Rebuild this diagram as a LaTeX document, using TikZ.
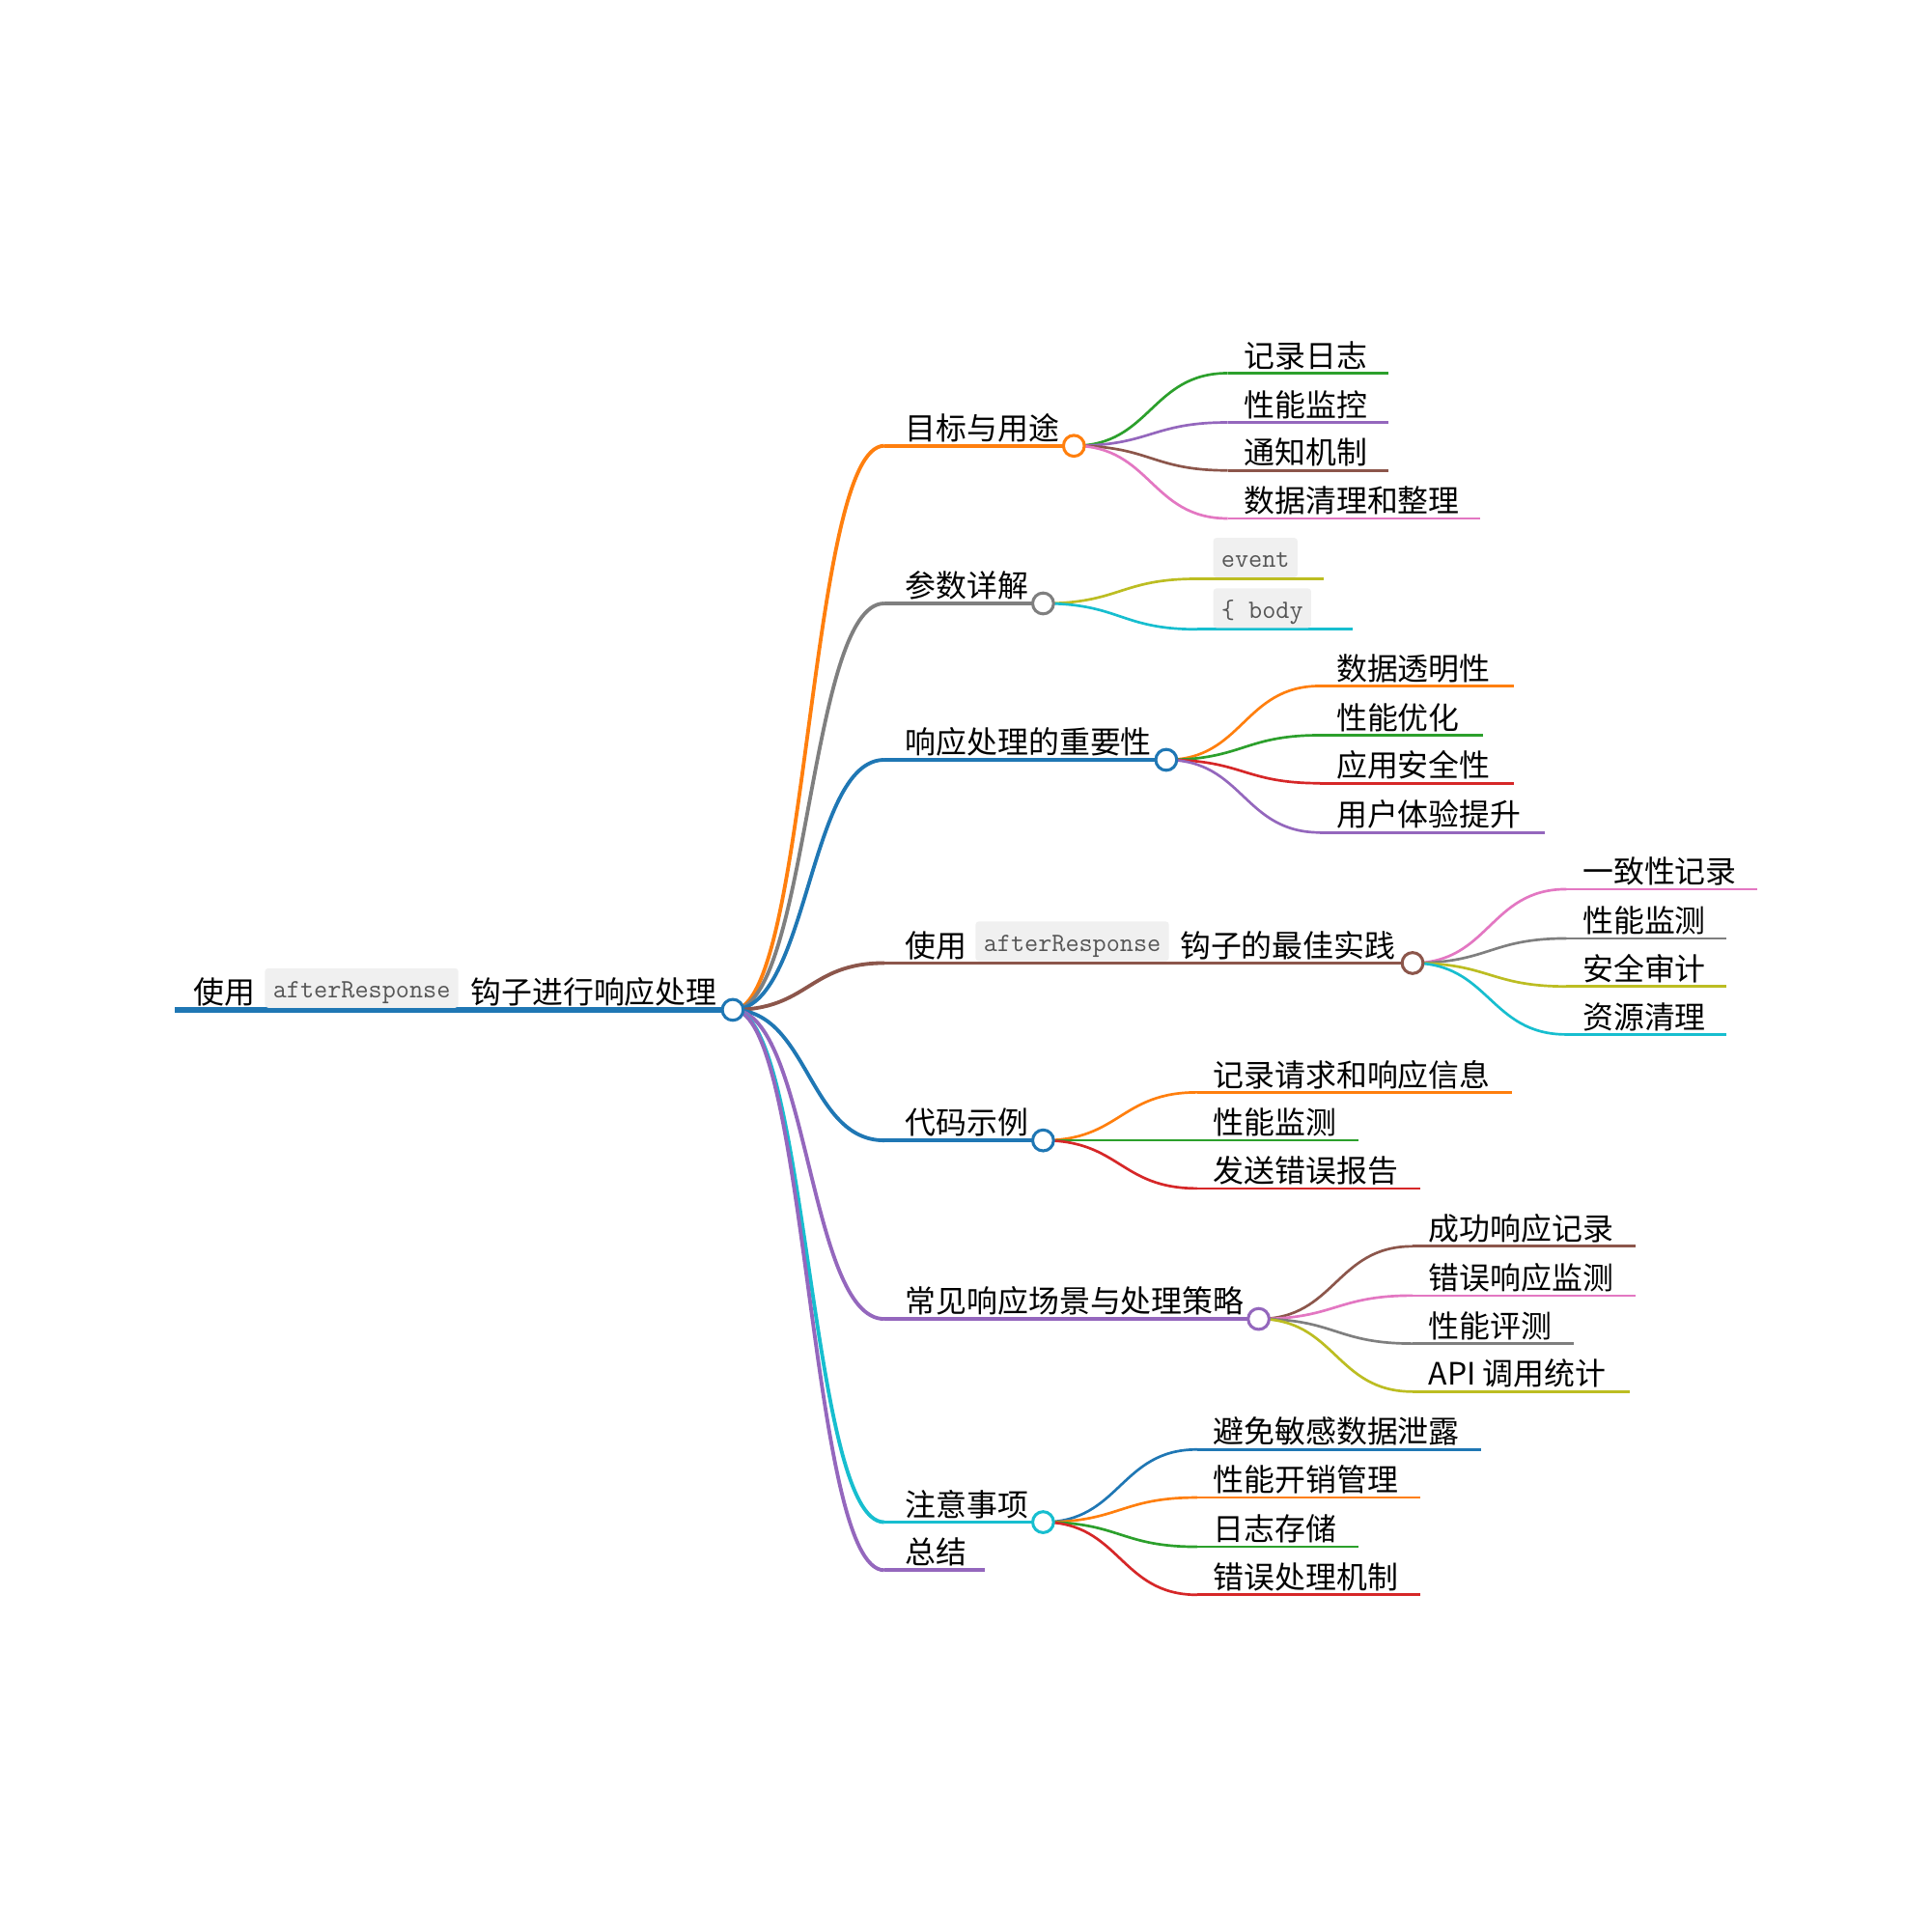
\documentclass[tikz,border=0pt]{standalone}
\usepackage{fontspec}
\newfontfamily\cjk{Noto Sans CJK SC}
\usetikzlibrary{calc}
\definecolor{cBlue}{HTML}{1F77B4}
\definecolor{cOrange}{HTML}{FF7F0E}
\definecolor{cGreen}{HTML}{2CA02C}
\definecolor{cRed}{HTML}{D62728}
\definecolor{cPurple}{HTML}{9467BD}
\definecolor{cBrown}{HTML}{8C564B}
\definecolor{cPink}{HTML}{E377C2}
\definecolor{cGray}{HTML}{7F7F7F}
\definecolor{cOlive}{HTML}{BCBD22}
\definecolor{cCyan}{HTML}{17BECF}
\definecolor{codebg}{HTML}{F0F0F0}
\definecolor{codetext}{HTML}{555555}
\tikzset{
  lbl/.style={anchor=base west, inner sep=0pt, text=black, font=\cjk\fontsize{25}{30}\selectfont},
  codebox/.style={anchor=south west, inner xsep=6.5pt, inner ysep=0pt, minimum height=32pt,
    text height=20pt, text depth=4pt,
    fill=codebg, rounded corners=2.5pt, text=codetext, font=\ttfamily\fontsize{21.5}{24}\selectfont},
  knob/.style={circle, draw, fill=white, line width=2.4pt, minimum size=17pt, inner sep=0pt},
}
\newcommand\mmlink[4]{\draw[#1,line width=#2] let \p1=(#3), \p2=(#4) in
  (\p1) .. controls ({(\x1+\x2)/2},\y1) and ({(\x1+\x2)/2},\y2) .. (\p2);}
% level-1 node: name, color, y, circle x, text
\newcommand\mmmid[5]{%
  \coordinate (#1s) at (718,#3);
  \coordinate (#1p) at (#4,#3);
  \mmlink{#2}{3pt}{rp}{#1s}
  \draw[#2,line width=3pt] (#1s) -- (#1p);
  \node[lbl] (#1t) at (735,#3-5) {#5};
}
% leaf: name, parent coord, color, y, start x, end x, text
\newcommand\mmleaf[7]{%
  \coordinate (#1s) at (#5,#4);
  \coordinate (#1e) at (#6,#4);
  \mmlink{#3}{2.1pt}{#2}{#1s}
  \draw[#3,line width=2.1pt] (#1s) -- (#1e);
  \node[lbl] (#1t) at (#5+13,#4-5) {#7};
}
\begin{document}
\begin{tikzpicture}[x=1pt,y=-1pt]
\fill[white] (0,0) rectangle (1568,1568);
\useasboundingbox (0,0) rectangle (1568,1568);

% root
\coordinate (rs) at (142,820);
\coordinate (rp) at (595,820);

% level 1
\mmmid{a}{cOrange}{362}{872}{目标与用途}
\mmmid{b}{cGray}{490}{847}{参数详解}
\mmmid{c}{cBlue}{617}{947}{响应处理的重要性}
% d : best practice (with code)
\coordinate (ds) at (718,782);
\coordinate (dp) at (1147,782);
\mmlink{cBrown}{3pt}{rp}{ds}
\draw[cBrown,line width=3pt] (ds) -- (dp);
\node[lbl] (dt1) at (735,777) {使用};
\node[codebox] (dt2) at (792,780.5) {afterResponse};
\node[lbl] (dt3) at (958,777) {钩子的最佳实践};
\mmmid{e}{cBlue}{926}{847}{代码示例}
\mmmid{f}{cPurple}{1071}{1022}{常见响应场景与处理策略}
\mmmid{g}{cCyan}{1236}{847}{注意事项}
% h : summary (no children)
\coordinate (hs) at (718,1275);
\coordinate (he) at (800,1275);
\mmlink{cPurple}{3pt}{rp}{hs}
\draw[cPurple,line width=3pt] (hs) -- (he);
\node[lbl] (ht) at (735,1270) {总结};

% root line and text
\draw[cBlue,line width=5pt] (rs) -- (rp);
\node[lbl] (rt1) at (157,815) {使用};
\node[codebox] (rt2) at (215,818.5) {afterResponse};
\node[lbl] (rt3) at (382,815) {钩子进行响应处理};

% children of a
\mmleaf{a1}{ap}{cGreen}{303}{997}{1127}{记录日志}
\mmleaf{a2}{ap}{cPurple}{343}{997}{1127}{性能监控}
\mmleaf{a3}{ap}{cBrown}{382}{997}{1127}{通知机制}
\mmleaf{a4}{ap}{cPink}{421}{997}{1202}{数据清理和整理}

% children of b (code)
\coordinate (b1s) at (972,470);
\coordinate (b1e) at (1075,470);
\mmlink{cOlive}{2.1pt}{bp}{b1s}
\draw[cOlive,line width=2.1pt] (b1s) -- (b1e);
\node[codebox] (b1t) at (985,469) {event};
\coordinate (b2s) at (972,511);
\coordinate (b2e) at (1098,511);
\mmlink{cCyan}{2.1pt}{bp}{b2s}
\draw[cCyan,line width=2.1pt] (b2s) -- (b2e);
\node[codebox] (b2t) at (985,510) {\{ body};

% children of c
\mmleaf{c1}{cp}{cOrange}{557}{1072}{1229}{数据透明性}
\mmleaf{c2}{cp}{cGreen}{597}{1072}{1204}{性能优化}
\mmleaf{c3}{cp}{cRed}{636}{1072}{1229}{应用安全性}
\mmleaf{c4}{cp}{cPurple}{676}{1072}{1254}{用户体验提升}

% children of d
\mmleaf{d1}{dp}{cPink}{722}{1272}{1427}{一致性记录}
\mmleaf{d2}{dp}{cGray}{762}{1272}{1402}{性能监测}
\mmleaf{d3}{dp}{cOlive}{801}{1272}{1402}{安全审计}
\mmleaf{d4}{dp}{cCyan}{840}{1272}{1402}{资源清理}

% children of e
\mmleaf{e1}{ep}{cOrange}{887}{972}{1228}{记录请求和响应信息}
\mmleaf{e2}{ep}{cGreen}{926}{972}{1103}{性能监测}
\mmleaf{e3}{ep}{cRed}{965}{972}{1153}{发送错误报告}

% children of f
\mmleaf{f1}{fp}{cBrown}{1012}{1147}{1328}{成功响应记录}
\mmleaf{f2}{fp}{cPink}{1052}{1147}{1328}{错误响应监测}
\mmleaf{f3}{fp}{cGray}{1091}{1147}{1278}{性能评测}
\mmleaf{f4}{fp}{cOlive}{1130}{1147}{1323}{API 调用统计}

% children of g
\mmleaf{g1}{gp}{cBlue}{1177}{972}{1203}{避免敏感数据泄露}
\mmleaf{g2}{gp}{cOrange}{1216}{972}{1153}{性能开销管理}
\mmleaf{g3}{gp}{cGreen}{1256}{972}{1103}{日志存储}
\mmleaf{g4}{gp}{cRed}{1295}{972}{1153}{错误处理机制}

% knobs
\node[knob,draw=cBlue] (rk) at (rp) {};
\node[knob,draw=cOrange] (ak) at (ap) {};
\node[knob,draw=cGray] (bk) at (bp) {};
\node[knob,draw=cBlue] (ck) at (cp) {};
\node[knob,draw=cBrown] (dk) at (dp) {};
\node[knob,draw=cBlue] (ek) at (ep) {};
\node[knob,draw=cPurple] (fk) at (fp) {};
\node[knob,draw=cCyan] (gk) at (gp) {};
\end{tikzpicture}
\end{document}
